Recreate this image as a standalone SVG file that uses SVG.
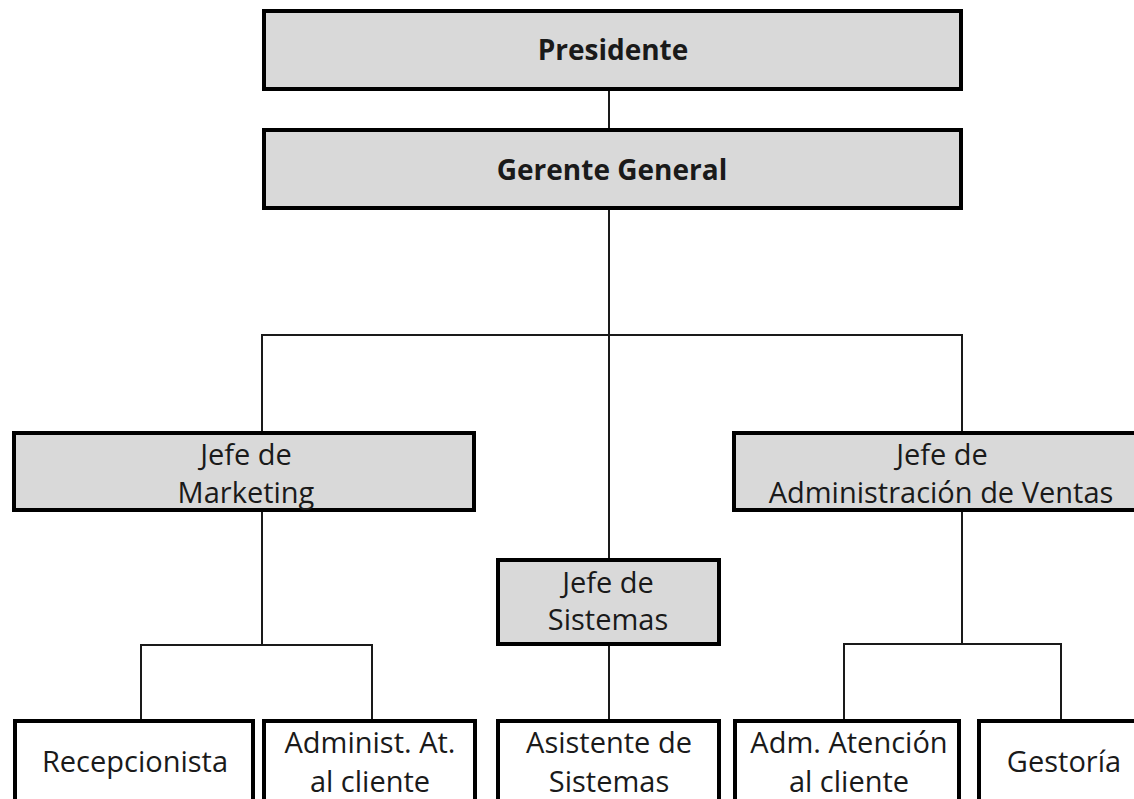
<svg xmlns="http://www.w3.org/2000/svg" width="1134" height="799" viewBox="0 0 1134 799">
<style>
.box{stroke:#000;stroke-width:4;}
.g{fill:#d9d9d9;}
.w{fill:#fff;}
.t{font-family:"Open Sans","Noto Sans","Liberation Sans",sans-serif;font-size:29px;fill:#1a1a1a;text-anchor:middle;}
.b{font-weight:bold;font-size:28px;}
.c{fill:none;stroke:#1a1a1a;stroke-width:2;}
</style>
<rect width="1134" height="799" fill="#fff"/>
<g id="connectors">
<path class="c" d="M609 89V130"/>
<path class="c" d="M609 208V560"/>
<path class="c" d="M262 433V335H962V433"/>
<path class="c" d="M262 510V645"/>
<path class="c" d="M141 721V645H372V721"/>
<path class="c" d="M609 644V721"/>
<path class="c" d="M962 510V644"/>
<path class="c" d="M844 721V644H1061V721"/>
</g>
<g id="presidente">
<rect class="box g" x="264" y="11" width="697" height="78"/>
<text class="t b" x="613" y="60">Presidente</text>
</g>
<g id="gerente">
<rect class="box g" x="264" y="130" width="697" height="78"/>
<text class="t b" x="612" y="180">Gerente General</text>
</g>
<g id="marketing">
<rect class="box g" x="14" y="433" width="460" height="77"/>
<text class="t" x="246" y="465">Jefe de</text>
<text class="t" x="246" y="503">Marketing</text>
</g>
<g id="sistemas">
<rect class="box g" x="498" y="560" width="221" height="84"/>
<text class="t" x="608" y="593">Jefe de</text>
<text class="t" x="608" y="630">Sistemas</text>
</g>
<g id="ventas">
<rect class="box g" x="734" y="433" width="414" height="77"/>
<text class="t" x="942" y="465">Jefe de</text>
<text class="t" x="941" y="503">Administración de Ventas</text>
</g>
<g id="recepcionista">
<rect class="box w" x="15" y="721" width="238" height="100"/>
<text class="t" x="135" y="772">Recepcionista</text>
</g>
<g id="administ">
<rect class="box w" x="264" y="721" width="211" height="100"/>
<text class="t" x="370" y="753">Administ. At.</text>
<text class="t" x="370" y="792">al cliente</text>
</g>
<g id="asistente">
<rect class="box w" x="498" y="721" width="221" height="100"/>
<text class="t" x="609" y="753">Asistente de</text>
<text class="t" x="609" y="792">Sistemas</text>
</g>
<g id="adm-atencion">
<rect class="box w" x="735" y="721" width="224" height="100"/>
<text class="t" x="849" y="753">Adm. Atención</text>
<text class="t" x="849" y="792">al cliente</text>
</g>
<g id="gestoria">
<rect class="box w" x="979" y="721" width="170" height="100"/>
<text class="t" x="1064" y="772">Gestoría</text>
</g>
</svg>
